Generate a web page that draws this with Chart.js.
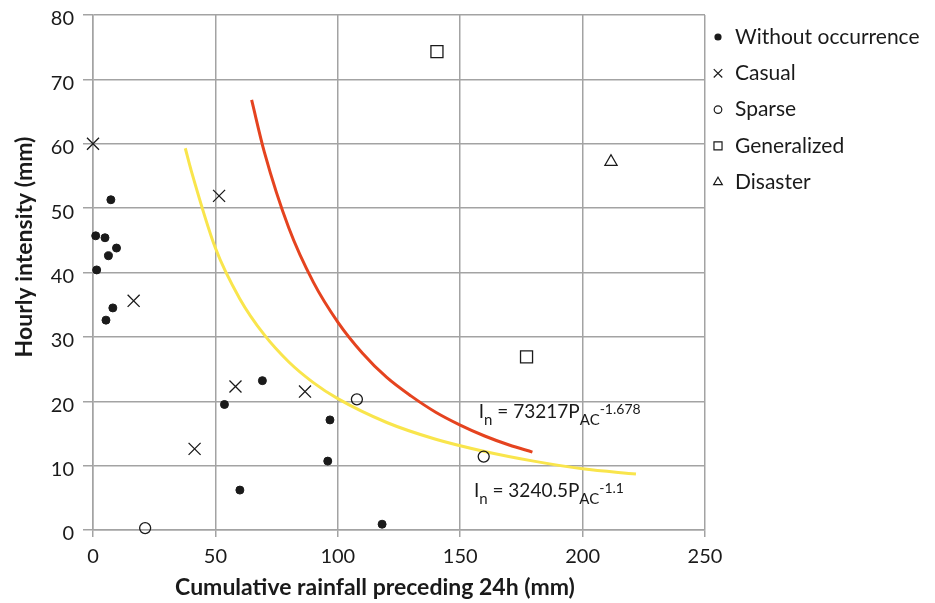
<!DOCTYPE html>
<html><head><meta charset="utf-8">
<script src="https://cdn.jsdelivr.net/npm/chart.js@4.4.1/dist/chart.umd.min.js"></script>
<style>html,body{margin:0;padding:0;background:#fff}canvas{display:block}</style>
</head><body>
<canvas id="c" width="935" height="603"></canvas>
<script>
// ---- data ----
const noOccX = [7.3, 1.1, 4.9, 9.6, 6.3, 1.5, 8.1, 5.3, 69.2, 53.7, 96.8, 95.9, 60.0, 118.1];
const noOccY = [51.3, 45.7, 45.4, 43.8, 42.6, 40.4, 34.5, 32.6, 23.2, 19.5, 17.1, 10.7, 6.2, 0.9];
const casualX = [0, 51.5, 16.6, 58.2, 86.6, 41.5];
const casualY = [60.0, 51.9, 35.6, 22.3, 21.5, 12.6];
const sparseX = [107.8, 159.6, 21.3];
const sparseY = [20.3, 11.4, 0.3];
const generalizedX = [140.5, 177.1];
const generalizedY = [74.3, 26.9];
const disasterX = [211.6];
const disasterY = [57.2];
const redCurveX = [64.8, 70, 80, 90, 100, 110, 120, 130, 140, 150, 160, 170, 179.5];
const redCurveY = [66.8, 58.7, 46.9, 38.5, 32.3, 27.5, 23.7, 20.8, 18.3, 16.3, 14.6, 13.2, 12.1];
const yellowCurveX = [37.7, 40, 50, 60, 70, 80, 90, 100, 120, 140, 160, 180, 200, 221.8];
const yellowCurveY = [59.3, 56.0, 43.8, 35.9, 30.3, 26.1, 22.9, 20.4, 16.7, 14.1, 12.2, 10.7, 9.5, 8.7];
const xTicks = [0, 50, 100, 150, 200, 250];
const yTicks = [0, 10, 20, 30, 40, 50, 60, 70, 80];
const legendLabels = ['Without occurrence', 'Casual', 'Sparse', 'Generalized', 'Disaster'];
const xTitle = 'Cumulative rainfall preceding 24h (mm)';
const yTitle = 'Hourly intensity (mm)';

const pts = (xs, ys) => xs.map((x, i) => ({x, y: ys[i]}));
const FONT = 'Lato, "Open Sans", sans-serif';
const INK = '#1a1a1a';
const GRID = '#a3a3a3';

const markerStyles = [
  {pointStyle: 'circle', radius: 4, fill: INK, stroke: INK, bw: 1, lr: 3},
  {pointStyle: 'crossRot', radius: 8.5, fill: 'rgba(0,0,0,0)', stroke: INK, bw: 1.3, lr: 6},
  {pointStyle: 'circle', radius: 5.5, fill: 'rgba(0,0,0,0)', stroke: INK, bw: 1.3, lr: 3.8},
  {pointStyle: 'rect', radius: 8.5, fill: 'rgba(0,0,0,0)', stroke: INK, bw: 1.3, lr: 5.7},
  {pointStyle: 'triangle', radius: 7, fill: 'rgba(0,0,0,0)', stroke: INK, bw: 1.3, lr: 5}
];
const seriesData = [pts(noOccX, noOccY), pts(casualX, casualY), pts(sparseX, sparseY), pts(generalizedX, generalizedY), pts(disasterX, disasterY)];

const datasets = seriesData.map((d, i) => ({
  type: 'scatter', label: legendLabels[i], data: d, clip: false,
  pointStyle: markerStyles[i].pointStyle, pointRadius: markerStyles[i].radius,
  pointBackgroundColor: markerStyles[i].fill, pointBorderColor: markerStyles[i].stroke,
  pointBorderWidth: markerStyles[i].bw, showLine: false
}));
datasets.push({type: 'line', label: 'red', data: pts(redCurveX, redCurveY), borderColor: '#e5431f', borderWidth: 3, pointRadius: 0, fill: false, cubicInterpolationMode: 'monotone'});
datasets.push({type: 'line', label: 'yellow', data: pts(yellowCurveX, yellowCurveY), borderColor: '#f9e54c', borderWidth: 3, pointRadius: 0, fill: false, cubicInterpolationMode: 'monotone'});

function drawEq(ctx, x, y, parts) {
  let cx = x;
  for (const p of parts) {
    let size = 19, dy = 0;
    if (p.k === 'sub') { size = 15; dy = 7; }
    if (p.k === 'sup') { size = 14; dy = -4; }
    ctx.font = size + 'px ' + FONT;
    ctx.fillText(p.t, cx, y + dy);
    cx += ctx.measureText(p.t).width;
  }
}

const extras = {
  id: 'extras',
  afterDraw(chart) {
    const ctx = chart.ctx;
    const xs = chart.scales.x, ys = chart.scales.y;
    ctx.save();
    ctx.fillStyle = INK;
    ctx.textBaseline = 'alphabetic';
    ctx.textAlign = 'left';
    drawEq(ctx, xs.getPixelForValue(157.6), ys.getPixelForValue(17.4), [
      {t: 'I'}, {t: 'n', k: 'sub'}, {t: ' = 73217P'}, {t: 'AC', k: 'sub'}, {t: '-1.678', k: 'sup'}]);
    drawEq(ctx, xs.getPixelForValue(155.6), ys.getPixelForValue(5.1), [
      {t: 'I'}, {t: 'n', k: 'sub'}, {t: ' = 3240.5P'}, {t: 'AC', k: 'sub'}, {t: '-1.1', k: 'sup'}]);
    // axis titles
    ctx.font = 'bold 23px ' + FONT;
    ctx.textAlign = 'center';
    ctx.fillText(xTitle, 375, 595);
    ctx.save();
    ctx.translate(32, 247);
    ctx.rotate(-Math.PI / 2);
    ctx.fillText(yTitle, 0, 0);
    ctx.restore();
    // legend
    ctx.textAlign = 'left';
    const lx = 718, tx = 735, y0 = 37, dy = 36.3;
    legendLabels.forEach((lab, i) => {
      const m = markerStyles[i];
      const y = y0 + i * dy;
      ctx.fillStyle = m.fill; ctx.strokeStyle = m.stroke; ctx.lineWidth = 1.2;
      Chart.helpers.drawPoint(ctx, {pointStyle: m.pointStyle, radius: m.lr, borderWidth: 1.2, rotation: 0}, lx, y);
      ctx.fillStyle = INK;
      ctx.font = '21px ' + FONT;
      ctx.textBaseline = 'middle';
      ctx.fillText(lab, tx, y);
    });
    ctx.restore();
  }
};

new Chart(document.getElementById('c'), {
  data: {datasets},
  options: {
    responsive: false, animation: false,
    layout: {padding: {left: 0, right: 230, top: 15, bottom: 0}},
    plugins: {legend: {display: false}, tooltip: {enabled: false}},
    scales: {
      x: {
        type: 'linear', min: 0, max: 250,
        afterBuildTicks: s => { s.ticks = xTicks.map(v => ({value: v})); },
        afterFit: s => { s.height = 73; s.paddingLeft = 0; s.paddingRight = 0; },
        ticks: {font: {family: FONT, size: 20}, color: INK, padding: 8},
        grid: {color: GRID, lineWidth: 1.5, tickLength: 7},
        border: {color: GRID, width: 1.5}
      },
      y: {
        type: 'linear', min: 0, max: 80,
        afterBuildTicks: s => { s.ticks = yTicks.map(v => ({value: v})); },
        afterFit: s => { s.width = 93; s.paddingTop = 0; s.paddingBottom = 0; },
        ticks: {font: {family: FONT, size: 20}, color: INK, padding: 9, labelOffset: 4},
        grid: {color: GRID, lineWidth: 1.5, tickLength: 10},
        border: {color: GRID, width: 1.5}
      }
    }
  },
  plugins: [extras]
});
</script>
</body></html>
